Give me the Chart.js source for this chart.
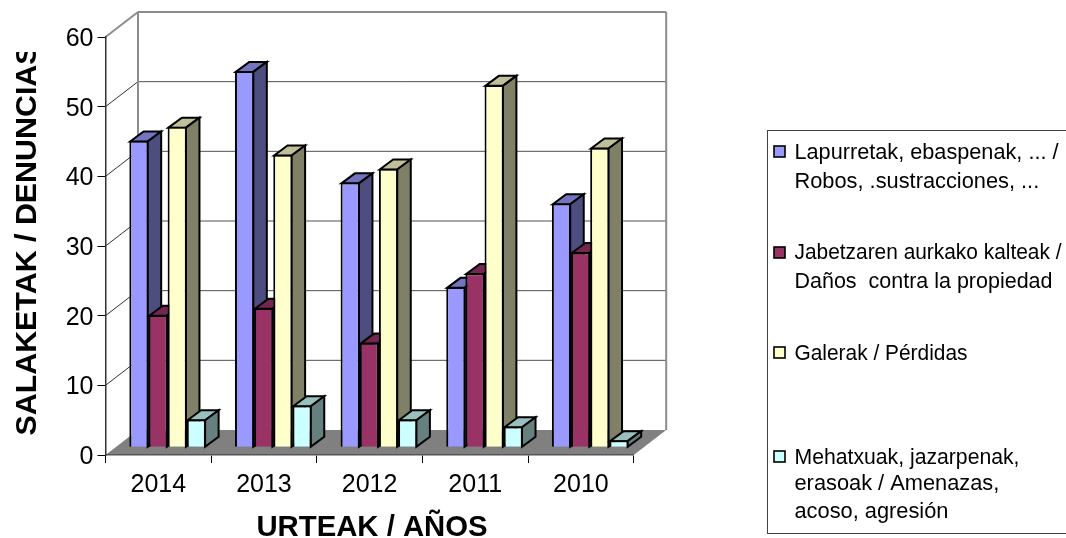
<!DOCTYPE html>
<html><head><meta charset="utf-8">
<style>html,body{margin:0;padding:0;background:#fff;overflow:hidden}canvas{display:block}</style>
<script src="https://cdn.jsdelivr.net/npm/chart.js@4"></script>
</head><body><canvas id="c" width="1066" height="538" style="width:1066px;height:538px"></canvas>
<script>
const categories = ['2014','2013','2012','2011','2010'];
const seriesLapurretak = [44,54,38,23,35];
const seriesJabetza = [19,20,15,25,28];
const seriesGalerak = [46,42,40,52,43];
const seriesMehatxuak = [4,6,4,3,1];
const seriesNames = ['Lapurretak, ebaspenak, ... /\nRobos, .sustracciones, ...','Jabetzaren aurkako kalteak /\nDaños  contra la propiedad','Galerak / Pérdidas','Mehatxuak, jazarpenak,\nerasoak / Amenazas,\nacoso, agresión'];
const frontColors = ['#9999FF','#993366','#FFFFCC','#CCFFFF'];
const sideColors = ['#4D4D80','#4D1A33','#808066','#668080'];
const topColors = ['#7373BF','#732650','#BFBF99','#99BFBF'];
const FONT='"Liberation Sans", Arial, sans-serif';
const wallDX=32.5, wallDY=25, barOffX=9.3, barOffY=7.7, barDX=13.5, barDY=10;
const legendLines=[[159,188],[259,288],[360],[464,490,518]];
const legendMaxW=[[264,246],[267,258],[173],[225,205,154]];
const legendSwatchY=[146,247,347,451];

const pseudo3d={
 id:'pseudo3d',
 beforeDraw(chart){
  const c=chart.ctx,a=chart.chartArea,y=chart.scales.y;
  c.save();
  c.fillStyle='#808080';c.beginPath();
  c.moveTo(a.left,a.bottom);c.lineTo(a.right,a.bottom);c.lineTo(a.right+wallDX,a.bottom-wallDY);c.lineTo(a.left+wallDX,a.bottom-wallDY);c.closePath();c.fill();
  y.ticks.forEach(t=>{
   const py=y.getPixelForValue(t.value);
   if(t.value===0)return;
   const top=t.value===y.max;
   c.strokeStyle=top?'#8c8c8c':'#303030';c.lineWidth=top?2:1;
   c.beginPath();c.moveTo(a.left,py);c.lineTo(a.left+wallDX,py-wallDY);c.stroke();
   c.beginPath();c.moveTo(a.left+wallDX,py-wallDY);c.lineTo(a.right+wallDX,py-wallDY);
   c.strokeStyle=top?'#8c8c8c':'#505050';c.stroke();
  });
  c.strokeStyle='#8c8c8c';c.lineWidth=2;c.beginPath();
  c.moveTo(a.left+wallDX,a.top-wallDY);c.lineTo(a.left+wallDX,a.bottom-wallDY);
  c.moveTo(a.right+wallDX,a.top-wallDY);c.lineTo(a.right+wallDX,a.bottom-wallDY);c.stroke();
  c.restore();
 },
 beforeDatasetsDraw(chart){
  const c=chart.ctx;
  chart.getSortedVisibleDatasetMetas().forEach(meta=>{
   const i=meta.index;
   c.save();c.translate(barOffX,-barOffY);
   c.lineWidth=2;c.strokeStyle='#000';c.lineJoin='miter';
   meta.data.forEach(b=>{
    const l=b.x-b.width/2+0.8,r=b.x+b.width/2-0.8,t=b.y+0.8,bt=b.base;
    c.fillStyle=topColors[i];c.beginPath();
    c.moveTo(l,t);c.lineTo(l+barDX,t-barDY);c.lineTo(r+barDX,t-barDY);c.lineTo(r,t);c.closePath();c.fill();c.stroke();
    c.fillStyle=sideColors[i];c.beginPath();
    c.moveTo(r,t);c.lineTo(r+barDX,t-barDY);c.lineTo(r+barDX,bt-barDY);c.lineTo(r,bt);c.closePath();c.fill();c.stroke();
   });
   meta.controller.draw();
   c.restore();
  });
  return false;
 },
 afterDraw(chart){
  const c=chart.ctx;
  c.save();
  c.fillStyle='#000';c.textBaseline='alphabetic';
  c.font='bold 29.3px '+FONT;c.textAlign='center';
  c.fillText('URTEAK / AÑOS',372,536);
  c.save();c.beginPath();c.rect(0,52,60,420);c.clip();
  c.font='bold 30.4px '+FONT;
  c.translate(36,240);c.rotate(-Math.PI/2);
  c.fillText('SALAKETAK / DENUNCIAS',0,0);
  c.restore();
  c.strokeStyle='#404040';c.lineWidth=1;
  c.strokeRect(767.5,130.5,320,403);
  c.font='21.8px '+FONT;c.textAlign='left';
  seriesNames.forEach((n,i)=>{
   c.fillStyle=frontColors[i];c.strokeStyle='#000';c.lineWidth=1.6;
   c.fillRect(774,legendSwatchY[i],11,11);c.strokeRect(774,legendSwatchY[i],11,11);
   c.fillStyle='#000';
   n.split('\n').forEach((ln,k)=>c.fillText(ln,794.5,legendLines[i][k],legendMaxW[i][k]));
  });
  c.restore();
 }
};
const allSeries=[seriesLapurretak,seriesJabetza,seriesGalerak,seriesMehatxuak];
new Chart(document.getElementById('c'),{
 type:'bar',
 data:{labels:categories,datasets:allSeries.map((d,i)=>({
  label:seriesNames[i].replace('\n',' '),data:d,backgroundColor:frontColors[i],borderColor:'#000',borderWidth:2,
  clip:false,categoryPercentage:0.725,barPercentage:1
 }))},
 options:{
  responsive:false,animation:false,devicePixelRatio:1,
  layout:{padding:{left:0,top:37,right:432.3,bottom:0}},
  plugins:{legend:{display:false},tooltip:{enabled:false},title:{display:false}},
  scales:{
   x:{offset:true,
    grid:{drawOnChartArea:false,drawTicks:true,tickLength:8,color:'#000',offset:true},
    border:{color:'#555',width:1.5},
    ticks:{color:'#000',font:{family:FONT,size:25},padding:7,maxRotation:0},
    afterFit(s){s.height=83;}
   },
   y:{min:0,max:60,
    grid:{drawOnChartArea:false,drawTicks:true,tickLength:8,color:'#000'},
    border:{color:'#333',width:1.5},
    ticks:{stepSize:10,color:'#000',font:{family:FONT,size:25},padding:4,labelOffset:2},
    afterFit(s){s.width=105.5;}
   }
  }
 },
 plugins:[pseudo3d]
});
</script></body></html>
